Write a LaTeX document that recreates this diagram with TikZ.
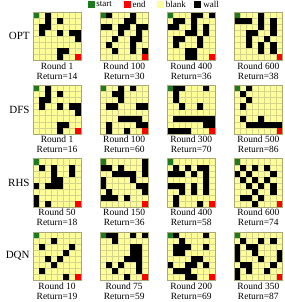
\documentclass[tikz,border=0pt]{standalone}
\usepackage{fontspec}
\setmainfont{Liberation Serif}
\usetikzlibrary{positioning}

\definecolor{blankyellow}{HTML}{FFFF99}
\definecolor{startgreen}{HTML}{1E7A1E}
\definecolor{endred}{HTML}{FF0000}
\definecolor{gridline}{HTML}{D4D48C}
\definecolor{edgegray}{HTML}{A8A878}

\begin{document}
\begin{tikzpicture}[x=1pt, y=1pt,
  maze/.style={draw=edgegray, fill=blankyellow, minimum size=48.5pt, inner sep=0pt, outer sep=0pt},
  captext/.style={inner sep=0pt, align=center, font=\fontsize{9.5}{10}\selectfont},
  rowlabel/.style={inner sep=0pt, font=\fontsize{11}{11}\selectfont},
  key/.style={minimum size=7pt, inner sep=0pt},
  keytext/.style={inner sep=0pt, font=\fontsize{9}{9}\selectfont}]
  \useasboundingbox (0,0) rectangle (284,-302);

  % legend
  \node[key, fill=startgreen] (kstart) at (91,-4.5) {};
  \node[keytext, right=1.5pt of kstart] (tstart) {start};
  \node[key, fill=endred, right=11.5pt of tstart] (kend) {};
  \node[keytext, right=1.5pt of kend] (tend) {end};
  \node[key, fill=blankyellow, right=11pt of tend] (kblank) {};
  \node[keytext, right=1.5pt of kblank] (tblank) {blank};
  \node[key, fill=black, right=8pt of tblank] (kwall) {};
  \node[keytext, right=1.5pt of kwall] (twall) {wall};

  % mazes
  \node[maze, anchor=north west] (opt1) at (32.8,-12) {};
  \node[maze, right=18.6pt of opt1] (opt2) {};
  \node[maze, right=18.6pt of opt2] (opt3) {};
  \node[maze, right=18.6pt of opt3] (opt4) {};

  \node[maze, below=24.8pt of opt1] (dfs1) {};
  \node[maze, right=18.6pt of dfs1] (dfs2) {};
  \node[maze, right=18.6pt of dfs2] (dfs3) {};
  \node[maze, right=18.6pt of dfs3] (dfs4) {};

  \node[maze, below=24.8pt of dfs1] (rhs1) {};
  \node[maze, right=18.6pt of rhs1] (rhs2) {};
  \node[maze, right=18.6pt of rhs2] (rhs3) {};
  \node[maze, right=18.6pt of rhs3] (rhs4) {};

  \node[maze, below=24.8pt of rhs1] (dqn1) {};
  \node[maze, right=18.6pt of dqn1] (dqn2) {};
  \node[maze, right=18.6pt of dqn2] (dqn3) {};
  \node[maze, right=18.6pt of dqn3] (dqn4) {};

  \node[rowlabel, left=3pt of opt1] (optlabel) {OPT};
  \node[rowlabel, left=3pt of dfs1] (dfslabel) {DFS};
  \node[rowlabel, left=3pt of rhs1] (rhslabel) {RHS};
  \node[rowlabel, left=3pt of dqn1] (dqnlabel) {DQN};

  \foreach \m/\rnd/\ret/\walls in {
    opt1/1/14/{2/0,2/1,2/2,1/2,1/3,4/1,4/3,6/3,7/3,7/4,4/6,5/6,4/7},
    opt2/100/30/{1/0,5/0,4/1,5/1,0/2,1/2,3/2,4/2,6/2,7/2,3/3,6/3,6/4,2/4,5/4,1/5,5/5,2/6,5/6,7/6},
    opt3/400/36/{4/0,5/0,7/0,1/1,2/1,4/1,0/2,1/2,4/2,6/2,4/3,3/3,6/3,1/4,2/4,5/4,1/5,5/5,3/6,4/6,3/7,4/7},
    opt4/600/38/{0/1,1/1,2/1,4/0,4/1,4/2,6/1,6/2,6/3,2/3,3/3,2/4,2/5,5/4,4/5,4/6,6/5,6/6},
    dfs1/1/16/{2/0,2/1,2/2,1/2,1/3,4/1,4/3,6/3,7/3,7/4,4/6,5/6,4/7},
    dfs2/100/60/{3/0,3/1,3/2,2/1,5/0,1/3,2/3,6/3,7/3,3/5,4/5,5/5,6/5,6/6,7/6,1/6,1/7,4/7},
    dfs3/300/70/{1/0,2/0,1/1,1/2,6/0,2/3,5/3,1/5,2/5,3/5,4/5,5/5,6/5,7/5,7/6,6/6,0/7,1/7,2/7,3/7},
    dfs4/500/86/{2/0,1/1,2/2,1/3,1/5,4/5,2/6,3/6,4/6,5/6,6/6,7/6},
    rhs1/50/18/{1/1,3/1,3/2,3/3,6/1,6/2,4/3,2/4,3/4,4/4,0/4,0/6,0/7,2/7},
    rhs2/150/36/{0/1,1/1,3/1,7/0,7/1,7/2,2/2,3/2,4/2,5/2,0/3,0/4,5/3,1/5,6/4,7/4,7/5,0/6,1/6,2/6,4/6},
    rhs3/400/58/{1/1,0/2,1/2,2/2,3/1,4/2,5/1,6/1,6/2,6/3,0/4,1/4,2/4,2/5,1/6,1/7,4/4,4/5,6/4,6/5,5/7},
    rhs4/600/74/{1/1,3/1,5/1,0/2,2/2,6/2,1/3,3/3,5/3,2/4,4/4,6/4,3/5,6/5,1/6,2/6,4/6,3/7},
    dqn1/10/19/{1/2,3/1,6/2,5/3,2/4,4/4,3/5,1/6,5/7},
    dqn2/75/59/{1/0,2/0,2/1,5/0,7/0,5/2,6/2,5/3,6/3,5/4,6/4,6/5,4/4,3/5,1/5,2/6,6/6,4/7},
    dqn3/200/69/{1/0,6/0,2/1,1/2,2/2,3/2,1/3,2/3,6/2,0/5,4/4,5/4,3/5,4/5,1/6,2/6,3/6,3/7,4/7,6/5},
    dqn4/350/87/{1/1,2/2,3/2,4/1,6/1,0/2,0/3,0/4,3/3,4/4,7/3,7/4,6/5,1/5,2/5,0/6,0/7,2/6,5/6}} {
    \begin{scope}[shift={(\m.north west)}, x=6.0625pt, y=-6.0625pt]
      \foreach \i in {1,...,7} {
        \draw[gridline, line width=0.3pt] (\i,0) -- (\i,8);
        \draw[gridline, line width=0.3pt] (0,\i) -- (8,\i);
      }
      \fill[startgreen] (0,0) rectangle (1,1);
      \fill[endred] (7,7) rectangle (8,8);
      \foreach \c/\r in \walls
        \fill (\c,\r) rectangle ++(1,1);
      \draw[edgegray] (0,0) rectangle (8,8);
    \end{scope}
    \node[captext, below=2pt of \m] (\m cap) {Round \rnd\\Return=\ret};
  }
\end{tikzpicture}
\end{document}
